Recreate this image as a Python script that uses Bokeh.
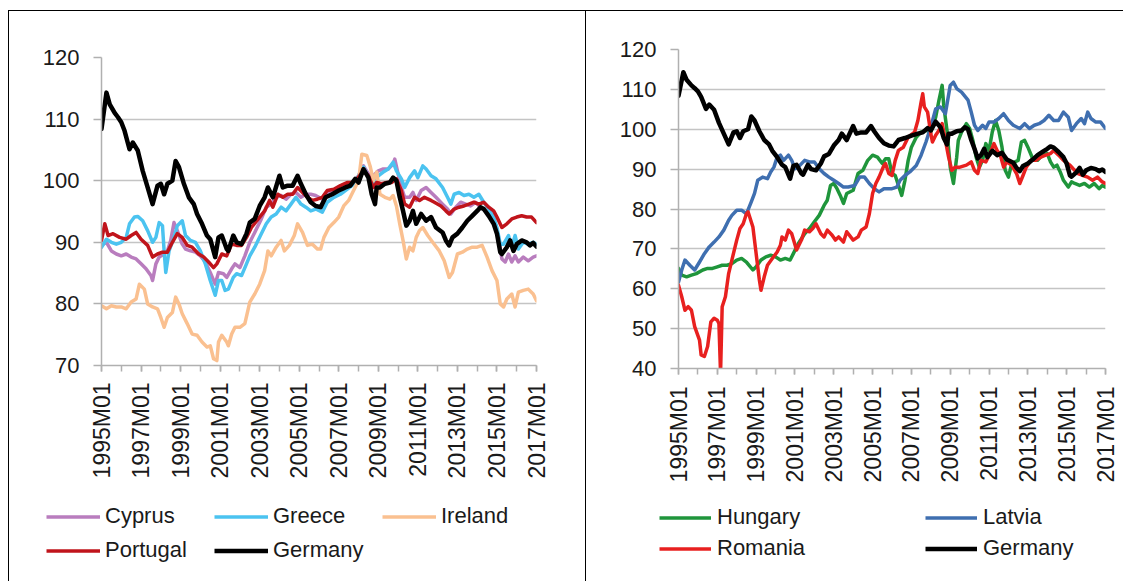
import math
from bokeh.plotting import figure
from bokeh.models import Range1d, FixedTicker, Legend, LegendItem
from bokeh.layouts import row, column
from bokeh.embed import file_html
from bokeh.resources import INLINE

FONT = "Liberation Sans"

# ---------------- data (month index 0 = 1995M01) ----------------
x_tick_labels = ["1995M01", "1997M01", "1999M01", "2001M01", "2003M01", "2005M01",
                 "2007M01", "2009M01", "2011M01", "2013M01", "2015M01", "2017M01"]

germany = [(0,108.4),(3,114.3),(5,112.4),(8,111),(10,110.3),(12,109.5),(14,108.1),(17,105.1),(19,106.2),(22,104.9),
           (25,101.6),(28,98.9),(31,96.2),(34,99.2),(36,99.5),(38,97.8),(40,99.5),(43,100),(45,103.2),(47,102.2),
           (50,99.5),(53,97.3),(56,96.2),(58,94.6),(61,93),(64,91.1),(66,90.5),(69,87.6),(71,90.8),(73,91.1),
           (76,88.9),(77,88.6),(80,91.1),(82,90),(85,89.7),(88,91.4),(90,93.2),(93,93.8),(96,95.9),(99,97.3),
           (101,98.9),(104,97.3),(108,100.8),(110,98.9),(113,99.2),(116,99.2),(119,100.8),(121,99.5),(124,97.8),(127,96.5),
           (130,95.9),(133,95.7),(136,97.3),(140,97.8),(144,98.4),(148,98.9),(151,99.2),(154,100.3),(156,99.7),(159,101.9),
           (162,100.5),(164,97.8),(166,96.2),(167,98.9),(169,98.9),(172,99.5),(175,99.7),(177,100.5),(179,100),(181,97.3),
           (183,95.1),(185,92.7),(187,93.5),(189,95.1),(191,93),(194,94.6),(197,93.5),(200,94.1),(203,92.4),(207,91.6),
           (209,90.3),(211,89.5),(213,90.8),(216,91.4),(219,92.4),(222,93.5),(225,94.3),(228,95.1),(230,95.7),(232,95.4),
           (235,94.3),(238,93),(240,91.4),(242,88.4),(243,88.1),(246,89.2),(248,90.3),(250,88.6),(252,89.7),(255,90.3),
           (258,90),(260,89.5),(262,89.9),(264,89.3)]

cyprus = [(0,89.5),(3,90),(6,88.6),(9,88.1),(12,87.8),(15,88.1),(18,87.6),(21,87.3),(24,86.5),(27,85.7),
          (30,84.6),(31,83.8),(33,86.5),(35,87.6),(38,88.1),(40,88.6),(42,90.3),(44,93.2),(46,91.9),(49,89.7),
          (51,88.9),(54,88.6),(57,88.4),(60,87.8),(63,86.8),(66,85.1),(69,83.2),(71,85.1),(74,84.9),(76,84.3),
          (79,85.7),(81,86.5),(84,85.9),(87,87.8),(90,90),(93,91.6),(97,93.8),(100,95.7),(103,96.2),(106,97.3),
          (109,97.6),(112,97),(115,97.8),(118,98.1),(121,97.3),(124,97.8),(127,97.8),(130,97.6),(134,97),(137,98.1),
          (141,98.4),(145,98.9),(149,99.5),(152,99.7),(155,100.3),(159,102.4),(162,101.1),(165,100.8),(168,101.6),(171,101.9),
          (174,101.9),(177,102.7),(178,103.5),(180,101.1),(182,98.9),(184,97.3),(187,97.3),(189,98.1),(191,96.8),(194,98.4),
          (197,98.9),(200,98.1),(203,97.3),(207,96.2),(210,95.4),(212,94.6),(215,95.7),(218,96.5),(221,96.2),(224,95.9),
          (227,96.5),(230,95.7),(233,95.1),(236,94.3),(239,93),(241,90.8),(243,87.3),(245,86.8),(247,88.1),(249,86.8),
          (251,87.8),(253,86.8),(256,87.6),(259,87),(262,87.6),(264,87.8)]

greece = [(0,89.2),(3,90.5),(6,90),(9,89.7),(12,90),(15,90.8),(17,93),(20,94.1),(22,94.2),(25,93.5),
          (28,91.9),(31,90),(33,90.8),(35,93.2),(37,92.7),(38,88.6),(39,85.1),(41,88.6),(44,90.8),(46,92.7),
          (49,93.5),(51,91.1),(54,90.3),(57,90),(60,88.6),(63,86.5),(66,83.8),(69,81.4),(71,83.8),(73,83.8),
          (75,82.2),(77,82.4),(80,84.3),(82,84.9),(85,84.6),(88,86.5),(90,87.8),(93,89.2),(97,91.4),(100,93),
          (103,94.1),(106,94.6),(109,95.7),(112,95.1),(115,96.2),(118,97.3),(121,96.2),(124,95.7),(127,95.1),(130,95.4),
          (134,94.9),(137,96.5),(141,97.3),(145,97.8),(149,98.6),(152,99.2),(155,100.3),(159,102.2),(162,100.5),(165,99.7),
          (168,100.8),(171,101.4),(174,101.9),(177,103),(179,101.6),(182,100.3),(184,98.9),(187,100.5),(190,101.6),(192,100.5),
          (195,102.4),(197,101.9),(200,100.8),(203,100.3),(207,98.9),(210,97.3),(212,96.2),(214,97.8),(217,98.1),(220,97.6),
          (223,97.8),(226,97.3),(229,97.8),(232,96.5),(235,95.4),(238,94.1),(240,92.4),(242,89.7),(244,89.7),(247,91.1),
          (249,89.2),(251,91.1),(253,88.9),(256,90),(259,89.7),(262,90),(264,89.7)]

ireland = [(0,79.7),(3,79.2),(6,79.7),(9,79.5),(12,79.5),(15,79.2),(18,80.3),(21,80.8),(23,83.2),(26,82.4),
           (28,80),(31,79.5),(34,79.2),(36,77.8),(38,76.2),(40,77.8),(43,78.6),(45,81.1),(47,80),(49,78.4),
           (52,76.8),(55,75.1),(58,74.9),(61,73.8),(64,73),(66,73.2),(68,71.1),(70,70.8),(71,73.8),(73,74.9),
           (76,73.8),(77,73.2),(79,75.1),(81,76.2),(84,76.2),(87,76.8),(90,80.3),(93,81.6),(96,83.2),(99,85.4),
           (101,88.6),(103,87.8),(106,89.2),(109,90.3),(111,88.6),(114,89.5),(117,91.1),(119,93),(122,91.6),(125,89.5),
           (128,89.7),(131,88.9),(133,88.9),(135,90.8),(138,92.4),(141,93.2),(144,94.1),(147,95.9),(150,96.8),(153,98.4),
           (156,100),(158,104.3),(161,104.1),(163,102.4),(165,100),(167,101.4),(169,97.8),(172,97.3),(175,97),(177,97.6),
           (179,95.9),(181,93),(183,90.3),(185,87.3),(187,89.2),(189,88.6),(191,90.8),(193,91.9),(195,92.4),(198,91.1),
           (201,90),(205,88.6),(208,87),(211,84.3),(213,85.1),(216,88.1),(219,88.4),(222,88.9),(225,89.2),(228,89.2),
           (231,89.5),(234,87.6),(237,85.4),(240,83.8),(242,80),(244,79.5),(246,80.8),(249,81.6),(251,79.5),(253,81.9),
           (256,82.2),(259,82.4),(262,81.6),(264,80.5)]

portugal = [(0,90.3),(2,93),(4,91.1),(7,91.4),(11,90.8),(15,90.5),(18,91.1),(21,91.6),(24,90.5),(28,89.5),
            (31,87.6),(34,88.1),(37,88.4),(40,88.4),(43,90),(46,91.4),(49,90.8),(52,89.5),(55,89.2),(59,88.1),
            (62,87.6),(65,86.8),(68,85.9),(70,86.5),(73,88.1),(76,87.8),(79,89.7),(82,89.5),(85,89.5),(88,90.8),
            (91,92.4),(96,94.1),(99,95.1),(102,96.8),(104,95.7),(107,97.8),(110,97.3),(113,97.8),(116,97.8),(119,98.9),
            (122,98.1),(125,97.3),(128,96.8),(131,97),(134,97.3),(137,98.4),(141,98.6),(145,99.2),(149,99.7),(152,99.7),
            (155,100.3),(159,101.6),(162,100.8),(165,98.9),(167,99.7),(170,99.5),(173,99.7),(176,99.7),(179,100.3),(182,98.4),
            (184,96.2),(187,95.7),(190,97.3),(193,96.8),(196,97.3),(200,96.8),(202,96.5),(206,95.9),(209,95.1),(211,94.6),
            (214,95.4),(217,95.7),(220,95.9),(223,96.2),(226,96.5),(229,96.2),(232,96.5),(235,95.7),(238,95.1),(240,94.1),
            (243,92.4),(246,93),(249,93.8),(252,94.1),(255,94.3),(258,94.1),(261,94.1),(264,93.2)]

hungary = [(0,65.1),(2,63.4),(5,63),(8,63.4),(11,63.8),(15,64.7),(18,65.1),(21,65.1),(24,65.5),(27,65.9),
           (30,65.9),(33,66.3),(36,67.2),(39,67.6),(42,66.7),(46,64.7),(48,65.5),(51,67.2),(54,68),(57,68.4),
           (60,68),(63,67.2),(66,67.6),(69,67.2),(71,68.8),(74,71.3),(78,73.8),(81,75.1),(84,76.8),(87,78.4),
           (90,80.9),(92,82.2),(94,85.9),(96,86.4),(98,85.1),(100,83.4),(102,81.4),(104,83.9),(108,84.7),(111,88.9),
           (114,89.7),(117,92.2),(120,93.5),(123,93),(126,91.4),(128,92.6),(130,92.6),(132,88.9),(134,88.4),(136,85.9),
           (138,83.4),(140,87.2),(142,92.2),(144,95.5),(147,98),(150,99.3),(153,99.7),(156,99.3),(159,103),(161,107.2),
           (163,111),(164,105.9),(166,99.7),(168,90.5),(170,86.4),(172,93),(173,97.2),(175,99.3),(178,101.4),(180,100.2),
           (182,97.2),(184,93),(186,90.5),(188,92.2),(190,96.4),(192,94.7),(194,99.3),(196,102.2),(198,99.7),(200,95.5),
           (202,89.7),(204,88),(206,91.4),(210,92.2),(212,96.8),(214,97.2),(216,95.5),(219,92.6),(222,92.2),(225,93.5),
           (228,93.9),(230,91.8),(232,90.5),(234,91),(236,89.3),(238,87.2),(241,85.5),(243,86.8),(245,86.4),(248,85.9),
           (251,86.4),(254,85.5),(257,86.4),(260,85.1),(262,85.9),(264,85.5)]

latvia = [(0,61.7),(2,64.7),(4,67.2),(7,65.9),(10,64.7),(13,66.7),(16,68.8),(19,70.5),(22,71.7),(25,73),
          (28,74.7),(31,77.2),(33,78.4),(36,79.7),(39,79.7),(42,78.8),(45,81.8),(47,83.9),(49,87.2),(52,88),
          (55,87.6),(57,89.3),(59,90.5),(61,93),(63,93.5),(65,92.2),(68,93.5),(70,92.2),(72,90.1),(74,90.5),
          (78,92.2),(81,91.8),(84,91.8),(87,90.1),(90,88.9),(93,88),(96,87.2),(99,86.4),(102,85.5),(105,85.5),
          (109,85.9),(112,88),(115,88),(118,86.4),(121,85.1),(124,84.3),(127,85.1),(130,85.1),(132,85.1),(135,85.5),
          (137,87.2),(140,88.4),(143,89.3),(147,90.9),(150,93.5),(153,96.8),(156,100.6),(159,105.1),(162,105.6),(165,103.9),
          (168,111),(170,111.8),(172,110.2),(175,109.3),(179,107.3),(181,104.3),(183,101),(185,99.7),(188,101),(190,100.2),
          (192,101.8),(195,101.8),(198,102.7),(201,103.9),(204,102.2),(207,101),(211,100.2),(214,101.4),(217,100.2),(220,101),
          (223,101.4),(226,102.2),(229,103.5),(232,102.2),(235,102.2),(238,104.3),(241,103),(243,99.7),(246,101.4),(249,102.7),
          (251,101.4),(253,104.3),(255,102.7),(258,101.8),(261,101.8),(264,100.2)]

romania = [(0,60.9),(2,58),(4,54.6),(6,55.5),(8,54.6),(10,50.5),(13,47.1),(14,43.4),(16,43),(18,45.5),
           (20,51.7),(22,52.6),(24,52.1),(25,51.3),(26,38.8),(27,55.5),(29,58),(31,63.8),(33,67.2),(36,72.2),
           (38,75.1),(40,76.3),(42,78.8),(43,79.3),(46,75.5),(48,68.8),(50,62.2),(51,59.6),(53,63),(55,65.9),
           (58,67.6),(61,69.2),(63,70.9),(64,73),(66,72.2),(68,74.7),(70,73.8),(73,69.7),(76,72.2),(78,74.7),
           (81,74.3),(83,75.1),(85,76.3),(88,73.8),(90,73),(92,74.7),(95,73.4),(97,72.2),(99,73),(102,71.7),
           (104,74.3),(108,72.2),(111,73),(113,74.7),(116,75.5),(118,78.8),(120,83.9),(122,86.4),(124,88),(127,90.9),
           (128,91.4),(130,88.9),(132,88.4),(134,92.2),(136,94.7),(139,95.5),(142,98),(146,99.3),(148,102.2),(150,106.8),
           (151,108.9),(152,105.6),(154,104.3),(156,98.9),(157,96.8),(159,98.5),(161,99.7),(163,101.4),(165,97.2),(167,93),
           (169,89.7),(171,90.5),(174,90.5),(178,91),(181,91.8),(183,89.7),(185,88.9),(187,92.2),(190,91.8),(193,94.3),
           (195,96.4),(197,94.7),(199,93.5),(201,90.5),(203,91.8),(206,91),(209,88.9),(211,86.4),(213,88.4),(215,90.5),
           (218,92.2),(221,92.2),(224,93),(227,93.5),(230,93.9),(232,94.7),(235,93.5),(238,92.2),(242,91),(244,90.1),
           (247,88.9),(250,88.4),(253,88),(256,87.2),(259,88),(262,86.8),(264,86.4)]

left_series = [("Cyprus", cyprus, "#B97DBE", 3.5), ("Greece", greece, "#4BC3F0", 3.5),
               ("Ireland", ireland, "#FAC090", 3.5), ("Portugal", portugal, "#C0141B", 3.5),
               ("Germany", germany, "#000000", 4.5)]
right_series = [("Hungary", hungary, "#1F953B", 3.5), ("Latvia", latvia, "#3F6FB0", 3.5),
                ("Romania", romania, "#E8201F", 3.5), ("Germany", germany, "#000000", 4.5)]

# ---------------- helpers ----------------
def month_index(label):
    return (int(label[:4]) - 1995) * 12 + int(label[5:]) - 1

label_pos = [month_index(s) for s in x_tick_labels]
year_pos = list(range(label_pos[0], label_pos[-1] + 1, 12))
X_END = label_pos[-1]

TEXT_COLOR = "#1A1A1A"
AXIS_COLOR = "#B0B0B0"


def make_panel(width, height, ymin, ymax, mb):
    p = figure(width=width, height=height, output_backend="svg", toolbar_location=None,
               x_range=Range1d(0, X_END), y_range=Range1d(ymin, ymax),
               min_border_left=mb[0], min_border_right=mb[1],
               min_border_top=mb[2], min_border_bottom=mb[3], frame_align=False)
    p.outline_line_color = None
    p.background_fill_color = "white"
    p.border_fill_color = "white"
    p.xgrid.visible = False
    p.ygrid.grid_line_color = "#C4C4C4"
    p.ygrid.grid_line_width = 1.5
    p.yaxis.ticker = FixedTicker(ticks=list(range(ymin, ymax + 1, 10)))
    p.xaxis.ticker = FixedTicker(ticks=label_pos, minor_ticks=year_pos)
    p.xaxis.major_label_overrides = {k: v for k, v in zip(label_pos, x_tick_labels)}
    p.xaxis.major_label_orientation = math.pi / 2
    for ax in (p.xaxis, p.yaxis):
        ax.axis_line_color = AXIS_COLOR
        ax.axis_line_width = 1.5
        ax.major_tick_line_color = AXIS_COLOR
        ax.minor_tick_line_color = AXIS_COLOR
        ax.major_tick_line_width = 1.5
        ax.minor_tick_line_width = 1.5
        ax.major_tick_in = 0
        ax.minor_tick_in = 0
        ax.major_label_text_font = FONT
        ax.major_label_text_color = TEXT_COLOR
    p.yaxis.major_label_text_font_size = "22px"
    p.xaxis.major_label_text_font_size = "23px"
    p.yaxis.major_tick_out = 8
    p.yaxis.minor_tick_out = 0
    p.yaxis.major_label_standoff = 14
    p.xaxis.major_tick_out = 6
    p.xaxis.minor_tick_out = 6
    p.xaxis.major_label_standoff = 11
    return p


def draw(p, series):
    for name, pts, color, lw in series:
        p.line(x=[m for m, _ in pts], y=[v for _, v in pts], line_color=color,
               line_width=lw, line_join="round", line_cap="round")


def make_legend_fig(width, height, series, rows, glyph_w, standoff, label_w):
    lf = figure(width=width, height=height, output_backend="svg", toolbar_location=None,
                x_range=Range1d(0, 1), y_range=Range1d(0, 1),
                x_axis_type=None, y_axis_type=None, frame_align=False,
                min_border_left=0, min_border_right=0, min_border_top=0, min_border_bottom=0)
    lf.outline_line_color = None
    lf.xgrid.visible = False
    lf.ygrid.visible = False
    # legend swatch renderers: one off-range point each, carrying the series' line style
    swatch = {}
    for name, pts, color, lw in series:
        swatch[name] = lf.line(x=[-10], y=[-10], line_color=color, line_width=lw)
    for names, loc in rows:
        leg = Legend(items=[LegendItem(label=n, renderers=[swatch[n]]) for n in names],
                     location=loc, orientation="horizontal",
                     glyph_width=glyph_w, glyph_height=25, label_standoff=standoff,
                     label_width=label_w, label_height=25, spacing=0, padding=0, margin=0,
                     border_line_color=None, background_fill_alpha=0,
                     label_text_font=FONT, label_text_font_size="22px",
                     label_text_color=TEXT_COLOR)
        lf.add_layout(leg)
    return lf


PLOT_H = 484
LEG_H = 86
border = "1px solid #000000"

p1 = make_panel(576, PLOT_H, 70, 120, (92, 49, 46, PLOT_H - 46 - 308))
draw(p1, left_series)
l1 = make_legend_fig(576, LEG_H, left_series,
                     [(["Cyprus", "Greece", "Ireland"], (37, 52)),
                      (["Portugal", "Germany"], (37, 18))], 54, 5, 109)

p2 = make_panel(537, PLOT_H, 40, 120, (92, 18, 38, PLOT_H - 38 - 319))
p2.xaxis.major_label_standoff = 12
draw(p2, right_series)
l2 = make_legend_fig(537, LEG_H, right_series,
                     [(["Hungary", "Latvia"], (73, 51)),
                      (["Romania", "Germany"], (73, 20))], 52, 6, 208)

col1 = column(p1, l1, styles={"border-top": border, "border-left": border, "border-right": border,
                              "margin-top": "10px", "margin-left": "8px"})
col2 = column(p2, l2, styles={"border-top": border, "margin-top": "10px"})
layout = row(col1, col2)
open("out.html", "w").write(file_html(layout, INLINE))
